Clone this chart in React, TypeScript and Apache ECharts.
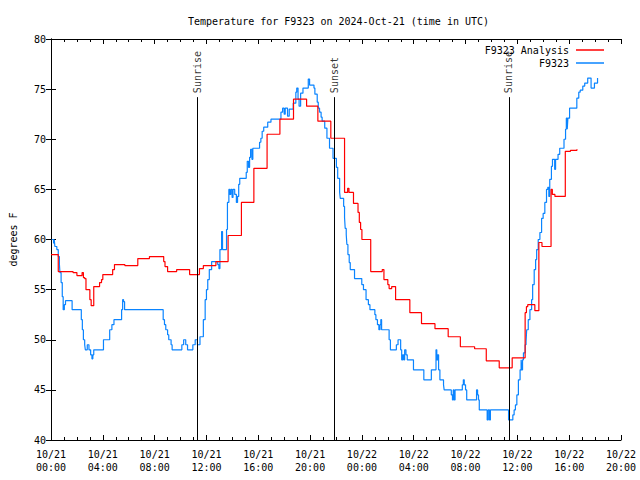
import React, { useEffect, useRef } from "react";
import * as echarts from "echarts";

// hours since 2024-10-21 00:00 UTC, temperature in °F (value holds until next point)
const analysisHours = [0.0, 0.56, 1.7, 2.0, 2.4, 2.5, 2.6, 2.7, 3.0, 3.1, 3.3, 3.75, 3.9, 4.0, 4.76, 4.9, 5.7, 6.7, 7.6, 8.7, 8.8, 9.0, 9.7, 10.7, 11.46, 11.76, 12.73, 13.67, 14.7, 15.66, 16.68, 17.67, 18.72, 19.73, 20.6, 21.6, 22.66, 22.9, 23.0, 23.35, 23.7, 23.8, 23.9, 24.0, 24.68, 25.57, 25.7, 26.0, 26.1, 26.3, 26.6, 27.7, 28.6, 29.64, 30.66, 31.6, 32.7, 33.6, 34.6, 35.6, 36.6, 36.7, 36.8, 37.35, 37.66, 37.9, 38.6, 38.7, 38.9, 39.7, 40.1, 40.6];
const analysisTemps = [58.5, 56.8, 56.7, 56.4, 56.7, 56.2, 56.1, 55.0, 54.0, 53.4, 55.3, 55.7, 56.0, 56.5, 57.0, 57.5, 57.4, 58.1, 58.3, 57.8, 57.3, 56.8, 57.0, 56.5, 57.1, 57.4, 57.8, 60.4, 63.7, 67.1, 70.5, 72.0, 74.0, 73.3, 71.8, 70.1, 64.7, 65.1, 64.7, 63.6, 62.7, 61.7, 61.0, 60.0, 56.8, 57.0, 56.0, 55.5, 55.1, 55.3, 54.0, 52.7, 51.6, 51.1, 50.3, 49.3, 49.1, 47.9, 47.2, 48.2, 52.7, 53.3, 53.5, 52.9, 59.7, 59.3, 65.0, 64.5, 64.3, 68.8, 68.9, 69.0];

const obsHours = [0.05, 0.2, 0.25, 0.3, 0.45, 0.56, 0.65, 0.69, 0.78, 0.87, 0.94, 1.03, 1.12, 1.63, 2.34, 2.42, 2.5, 2.6, 2.65, 2.8, 2.93, 3.06, 3.16, 3.23, 3.3, 4.05, 4.53, 4.7, 4.86, 5.45, 5.53, 5.6, 5.68, 8.66, 8.76, 8.86, 9.0, 9.09, 9.27, 9.35, 10.1, 10.24, 10.4, 10.54, 10.95, 11.13, 11.3, 11.5, 11.76, 11.9, 12.0, 12.1, 12.22, 12.4, 12.87, 12.96, 13.04, 13.17, 13.24, 13.55, 13.62, 13.73, 13.8, 13.88, 13.98, 14.05, 14.18, 14.31, 14.4, 14.49, 14.57, 15.07, 15.15, 15.25, 15.33, 15.41, 15.51, 15.58, 16.1, 16.2, 16.3, 16.42, 16.73, 16.98, 17.75, 17.88, 18.0, 18.08, 18.26, 18.39, 18.7, 18.9, 18.97, 19.07, 19.15, 19.27, 19.45, 19.86, 19.96, 20.3, 20.37, 20.55, 20.63, 20.73, 20.85, 20.93, 21.13, 21.3, 21.5, 21.77, 22.03, 22.13, 22.28, 22.33, 22.59, 22.66, 22.71, 22.79, 22.84, 22.92, 23.02, 23.1, 23.43, 23.99, 24.12, 24.32, 24.5, 24.62, 25.0, 25.08, 25.2, 25.31, 25.4, 25.46, 25.52, 26.1, 26.2, 26.66, 26.79, 26.99, 27.07, 27.15, 27.23, 27.3, 27.4, 27.5, 27.98, 28.78, 29.36, 29.72, 29.78, 29.85, 29.92, 30.02, 30.3, 30.35, 30.9, 30.99, 31.05, 31.12, 31.19, 31.75, 31.83, 31.9, 32.0, 32.09, 32.85, 32.93, 33.0, 33.06, 33.67, 33.75, 33.85, 33.92, 35.32, 35.65, 35.75, 35.85, 35.96, 36.08, 36.21, 36.29, 36.34, 36.4, 36.47, 36.6, 36.67, 36.72, 36.84, 36.97, 37.1, 37.18, 37.3, 37.41, 37.49, 37.61, 37.74, 37.87, 37.99, 38.12, 38.25, 38.35, 38.43, 38.5, 38.63, 38.71, 38.88, 38.95, 39.14, 39.27, 39.6, 39.72, 39.78, 39.85, 39.9, 40.03, 40.59, 40.74, 40.85, 41.05, 41.2, 41.43, 41.69, 41.95, 42.19];
const obsTemps = [60.0, 59.6, 60.0, 59.3, 59.0, 58.3, 57.5, 56.7, 55.7, 54.3, 53.0, 53.5, 53.9, 53.0, 52.0, 51.0, 50.0, 49.5, 49.0, 49.5, 49.0, 48.5, 48.1, 48.5, 49.0, 50.0, 51.0, 51.5, 52.0, 53.0, 54.0, 53.8, 53.0, 52.0, 51.5, 51.0, 50.5, 50.0, 49.5, 49.0, 49.5, 50.0, 49.5, 49.0, 49.5, 50.0, 49.5, 50.3, 52.0, 54.0, 55.0, 56.0, 57.0, 57.8, 57.5, 57.1, 59.0, 60.8, 59.0, 61.0, 63.7, 65.0, 64.5, 65.0, 64.2, 65.0, 64.5, 63.7, 64.3, 65.5, 66.1, 66.7, 67.8, 67.2, 68.2, 69.0, 68.0, 69.1, 69.7, 70.1, 70.8, 71.2, 71.7, 72.0, 72.7, 73.1, 72.5, 73.1, 72.3, 73.0, 73.6, 74.7, 75.1, 74.0, 73.3, 74.6, 75.1, 76.0, 75.4, 75.1, 74.5, 73.7, 73.1, 72.7, 72.2, 71.8, 71.1, 70.1, 69.1, 68.1, 67.2, 66.1, 64.7, 64.1, 63.3, 62.2, 61.1, 60.5, 59.5, 58.5, 57.7, 57.0, 56.1, 55.5, 55.0, 54.0, 53.5, 53.0, 52.5, 52.0, 51.5, 51.0, 51.5, 52.0, 51.0, 50.0, 49.0, 49.5, 50.0, 49.0, 48.0, 48.5, 48.0, 49.0, 48.5, 48.0, 47.0, 46.0, 47.0, 49.0, 48.0, 48.5, 47.0, 46.0, 45.5, 45.0, 44.5, 44.0, 45.0, 44.0, 45.0, 45.5, 46.0, 45.5, 45.0, 44.0, 45.0, 44.5, 44.0, 43.0, 42.0, 43.0, 42.0, 43.0, 42.0, 42.5, 43.0, 43.5, 44.5, 46.0, 47.0, 48.0, 47.0, 48.0, 48.7, 49.5, 49.8, 51.0, 52.0, 53.0, 54.0, 55.5, 57.0, 58.0, 59.0, 60.0, 60.7, 62.1, 62.6, 63.7, 65.0, 65.2, 64.3, 66.0, 67.3, 68.0, 67.0, 68.0, 68.5, 69.1, 70.0, 71.0, 72.1, 71.0, 72.1, 73.1, 74.1, 74.7, 74.9, 75.3, 75.6, 76.1, 75.1, 75.6, 76.1];

const eventNames = ["Sunrise", "Sunset", "Sunrise"];
const eventHours = [11.3, 21.86, 35.34];

const xMin = 0;
const xMax = 44;
const xStep = 4;
const yMin = 40;
const yMax = 80;
const yStep = 5;

const FONT = "'DejaVu Sans Mono', 'Liberation Mono', monospace";

function xLabel(h: number): string {
  const day = 21 + Math.floor(h / 24);
  const hh = h % 24;
  return `10/${day}\n${hh < 10 ? "0" + hh : hh}:00`;
}

export default function App() {
  const ref = useRef<HTMLDivElement>(null);
  useEffect(() => {
    if (!ref.current) return;
    const chart = echarts.init(ref.current, undefined, { renderer: "svg" });
    const axisLine = { show: true, lineStyle: { color: "#000", width: 1 } };
    const lineTop = 74.2;
    const labelAt = 74.6;
    chart.setOption({
      animation: false,
      backgroundColor: "#fff",
      title: {
        text: "Temperature for F9323 on 2024-Oct-21 (time in UTC)",
        left: 183,
        top: 11,
        textStyle: { fontFamily: FONT, fontSize: 10, fontWeight: "normal", color: "#000" },
      },
      legend: {
        orient: "vertical",
        right: 31,
        top: 40,
        align: "right",
        icon: "rect",
        itemWidth: 28,
        itemHeight: 1.5,
        itemGap: 3,
        data: ["F9323 Analysis", "F9323"],
        textStyle: { fontFamily: FONT, fontSize: 10, color: "#000", padding: [0, 2, 0, 0], lineHeight: 10 },
      },
      grid: { left: 46, right: 19, top: 39, bottom: 40, containLabel: false },
      xAxis: [
        {
          type: "value",
          min: xMin,
          max: xMax,
          interval: xStep,
          axisLine,
          axisTick: { show: true, inside: true, length: 5, lineStyle: { color: "#000" } },
          minorTick: { show: true, splitNumber: 4, length: 3, lineStyle: { color: "#000" } },
          splitLine: { show: false },
          axisLabel: {
            formatter: (v: number) => xLabel(v),
            fontFamily: FONT,
            fontSize: 10,
            color: "#000",
            lineHeight: 13,
            margin: 8,
          },
        },
        {
          type: "value",
          position: "top",
          min: xMin,
          max: xMax,
          interval: xStep,
          axisLine,
          axisTick: { show: true, inside: true, length: 5, lineStyle: { color: "#000" } },
          minorTick: { show: true, splitNumber: 4, length: 3, lineStyle: { color: "#000" } },
          splitLine: { show: false },
          axisLabel: { show: false },
        },
      ],
      yAxis: [
        {
          type: "value",
          min: yMin,
          max: yMax,
          interval: yStep,
          name: "degrees F",
          nameLocation: "middle",
          nameGap: 33,
          nameTextStyle: { fontFamily: FONT, fontSize: 10, color: "#000" },
          axisLine,
          axisTick: { show: true, inside: true, length: 5, lineStyle: { color: "#000" } },
          splitLine: { show: false },
          axisLabel: { fontFamily: FONT, fontSize: 10, color: "#000", margin: 5 },
        },
        {
          type: "value",
          position: "right",
          min: yMin,
          max: yMax,
          interval: yStep,
          axisLine,
          axisTick: { show: true, inside: true, length: 5, lineStyle: { color: "#000" } },
          splitLine: { show: false },
          axisLabel: { show: false },
        },
      ],
      series: [
        {
          name: "F9323 Analysis",
          type: "line",
          step: "end",
          showSymbol: false,
          symbol: "none",
          color: "#ff0000",
          lineStyle: { color: "#ff0000", width: 1.2 },
          data: analysisHours.map((h, i) => [h, analysisTemps[i]]),
          z: 3,
        },
        {
          name: "F9323",
          type: "line",
          step: "end",
          showSymbol: false,
          symbol: "none",
          color: "#0a84ff",
          lineStyle: { color: "#0a84ff", width: 1.2 },
          data: obsHours.map((h, i) => [h, obsTemps[i]]),
          z: 2,
        },
        {
          name: "events",
          type: "scatter",
          symbolSize: 0,
          silent: true,
          data: eventHours.map((h, i) => ({ value: [h, labelAt], name: eventNames[i] })),
          label: {
            show: true,
            position: "inside",
            rotate: 90,
            align: "left",
            verticalAlign: "middle",
            formatter: (p: any) => p.name,
            fontFamily: FONT,
            fontSize: 10,
            color: "#000",
          },
          markLine: {
            silent: true,
            symbol: "none",
            label: { show: false },
            lineStyle: { color: "#000", width: 1, type: "solid" },
            data: eventHours.map((h) => [{ coord: [h, yMin] }, { coord: [h, lineTop] }]),
          },
          z: 1,
        },
      ],
    });
    return () => chart.dispose();
  }, []);
  return (
    <div
      ref={ref}
      style={{ position: "fixed", left: 0, top: 0, width: 640, height: 480 }}
    />
  );
}
